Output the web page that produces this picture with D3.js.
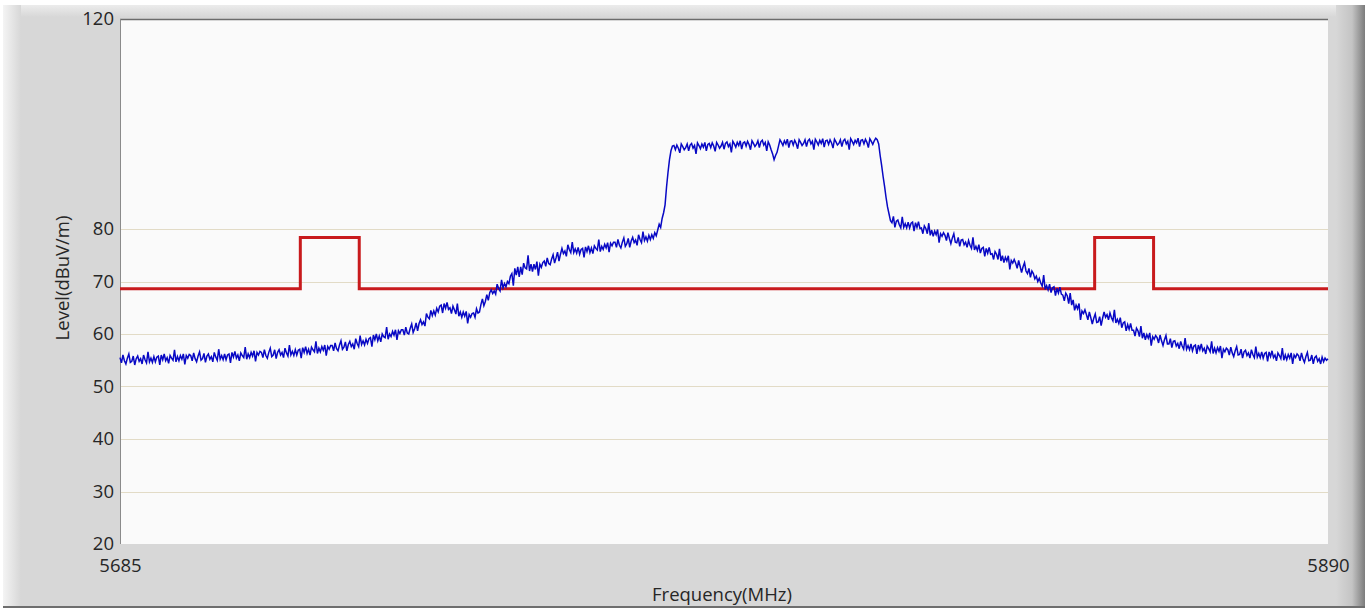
<!DOCTYPE html>
<html>
<head>
<meta charset="utf-8">
<script src="https://cdn.jsdelivr.net/npm/d3@7"></script>
<style>
  html, body { margin: 0; padding: 0; background: #ffffff; }
  svg { display: block; }
  text { font-family: "Open Sans", "Noto Sans", sans-serif; }
</style>
</head>
<body>
<svg id="chart" width="1370" height="610"></svg>
<script>
// Frequency sweep: start and step of the measured trace (MHz)
const freqStart = 5685;
const freqStep = 0.25;

// Measured field strength, dBuV/m, one value per 0.25 MHz (each row spans 2 MHz)
const levels = [
  55.5, 54.5, 56.0, 54.9, 54.3, 55.4, 56.2, 54.6,   // 5685
  54.8, 55.8, 54.1, 55.3, 55.8, 54.8, 55.3, 54.3,   // 5687
  56.0, 55.1, 54.5, 56.6, 54.7, 55.4, 54.6, 55.7,   // 5689
  54.7, 55.6, 55.8, 54.1, 56.0, 55.1, 56.2, 54.9,   // 5691
  55.5, 54.4, 55.9, 55.4, 55.0, 57.0, 54.7, 55.7,   // 5693
  54.9, 55.9, 55.2, 56.2, 54.2, 55.9, 55.4, 56.1,   // 5695
  55.9, 54.9, 56.4, 55.3, 54.7, 55.8, 56.6, 55.0,   // 5697
  55.3, 56.3, 54.6, 55.8, 56.2, 55.2, 55.7, 54.7,   // 5699
  56.5, 55.6, 55.0, 57.1, 55.2, 55.9, 55.1, 56.2,   // 5701
  55.1, 56.0, 56.2, 54.5, 56.5, 55.6, 56.7, 55.4,   // 5703
  56.0, 54.9, 56.4, 55.9, 55.5, 57.5, 55.2, 56.2,   // 5705
  55.5, 56.5, 55.8, 56.8, 54.8, 56.5, 56.0, 56.7,   // 5707
  56.5, 55.5, 57.0, 55.9, 55.4, 56.5, 57.3, 55.7,   // 5709
  56.0, 57.0, 55.3, 56.5, 57.0, 56.0, 56.5, 55.5,   // 5711
  57.3, 56.4, 55.8, 57.9, 56.0, 56.7, 55.9, 57.0,   // 5713
  56.0, 56.9, 57.1, 55.4, 57.4, 56.5, 57.6, 56.3,   // 5715
  57.1, 56.0, 57.5, 57.0, 56.6, 58.6, 56.3, 57.3,   // 5717
  56.6, 57.6, 56.9, 57.9, 55.9, 57.6, 57.1, 57.8,   // 5719
  57.8, 56.8, 58.3, 57.2, 56.8, 57.9, 58.7, 57.1,   // 5721
  57.5, 58.5, 56.8, 58.0, 58.6, 57.6, 58.1, 57.1,   // 5723
  59.1, 58.2, 57.6, 59.7, 58.0, 58.7, 57.9, 59.0,   // 5725
  58.2, 59.1, 59.3, 57.6, 59.8, 58.9, 60.0, 58.7,   // 5727
  59.6, 58.5, 60.0, 59.5, 59.3, 61.3, 59.0, 60.0,   // 5729
  59.5, 60.5, 59.8, 60.8, 58.9, 60.6, 60.1, 60.8,   // 5731
  60.8, 59.8, 61.3, 60.2, 60.0, 61.1, 61.9, 60.3,   // 5733
  61.0, 62.1, 60.6, 62.0, 62.7, 61.8, 62.3, 61.5,   // 5735
  63.9, 63.2, 62.9, 64.5, 63.5, 64.4, 63.6, 64.9,   // 5737
  64.2, 65.3, 65.5, 64.0, 65.8, 64.9, 66.0, 64.7,   // 5739
  65.0, 63.9, 65.3, 64.6, 63.8, 65.8, 63.4, 64.2,   // 5741
  63.2, 64.2, 63.4, 64.3, 62.0, 63.7, 63.2, 63.9,   // 5743
  64.0, 63.2, 64.8, 64.0, 64.2, 65.6, 66.7, 65.4,   // 5745
  66.2, 67.5, 66.4, 67.9, 68.4, 67.7, 68.2, 67.6,   // 5747
  69.5, 68.7, 68.2, 70.3, 68.8, 69.6, 69.0, 70.0,   // 5749
  69.6, 71.0, 71.5, 69.2, 72.5, 71.2, 72.8, 70.9,   // 5751
  72.8, 71.3, 73.5, 72.6, 72.4, 75.0, 72.0, 73.3,   // 5753
  71.9, 73.3, 72.3, 73.8, 71.1, 73.3, 72.7, 73.6,   // 5755
  73.9, 72.9, 74.5, 73.4, 73.2, 74.3, 75.1, 73.5,   // 5757
  74.5, 75.6, 73.9, 75.2, 76.3, 75.3, 75.8, 74.8,   // 5759
  77.0, 76.1, 75.5, 77.5, 75.5, 76.2, 75.4, 76.5,   // 5761
  75.2, 76.1, 76.3, 74.6, 76.6, 75.7, 76.8, 75.5,   // 5763
  76.4, 75.3, 76.8, 76.3, 76.0, 78.0, 75.7, 76.7,   // 5765
  76.1, 77.1, 76.4, 77.4, 75.6, 77.3, 76.8, 77.5,   // 5767
  77.5, 76.5, 78.0, 76.9, 76.4, 77.5, 78.3, 76.7,   // 5769
  77.2, 78.2, 76.5, 77.7, 78.4, 77.4, 77.9, 76.9,   // 5771
  78.9, 78.0, 77.4, 79.5, 77.8, 78.5, 77.7, 78.8,   // 5773
  78.0, 78.9, 78.2, 79.3, 78.7, 79.8, 80.9, 80.3,   // 5775
  82.0, 83.1, 84.6, 88.0, 90.8, 93.2, 94.9, 95.8,   // 5777
  95.9, 95.1, 96.0, 95.4, 94.5, 96.2, 95.7, 95.1,   // 5779
  95.5, 96.2, 94.9, 96.0, 96.3, 95.4, 95.9, 94.3,   // 5781
  96.4, 95.9, 95.3, 96.2, 95.6, 96.5, 94.9, 96.1,   // 5783
  96.3, 95.5, 96.4, 95.8, 94.8, 96.5, 96.0, 95.4,   // 5785
  95.8, 96.5, 95.2, 96.3, 96.6, 95.7, 96.2, 94.6,   // 5787
  96.7, 96.2, 95.6, 96.5, 95.9, 96.8, 95.2, 96.4,   // 5789
  96.6, 95.8, 96.7, 96.1, 95.1, 96.8, 96.3, 95.7,   // 5791
  96.1, 96.8, 95.5, 96.6, 96.9, 96.0, 96.5, 94.9,   // 5793
  96.6, 96.0, 95.1, 94.3, 93.2, 94.0, 94.6, 95.8,   // 5795
  97.0, 96.5, 95.9, 96.8, 96.2, 97.1, 95.5, 96.7,   // 5797
  96.8, 96.0, 96.9, 96.3, 95.3, 97.0, 96.5, 95.9,   // 5799
  96.3, 97.0, 95.7, 96.8, 97.1, 96.2, 96.7, 95.1,   // 5801
  97.1, 96.6, 96.0, 96.9, 96.3, 97.2, 95.6, 96.8,   // 5803
  96.9, 96.1, 97.0, 96.4, 95.4, 97.1, 96.6, 96.0,   // 5805
  96.3, 97.0, 95.7, 96.8, 97.1, 96.2, 96.7, 95.1,   // 5807
  97.2, 96.7, 96.1, 96.9, 96.4, 97.3, 95.7, 96.9,   // 5809
  97.0, 96.2, 97.1, 96.5, 95.5, 97.2, 96.7, 96.1,   // 5811
  96.8, 97.3, 97.0, 96.2, 94.0, 92.1, 90.0, 88.1,   // 5813
  86.0, 84.2, 82.9, 81.6, 81.2, 82.4, 80.3, 81.5,   // 5815
  81.7, 80.8, 80.2, 82.3, 80.3, 81.0, 80.2, 81.3,   // 5817
  80.2, 81.1, 81.3, 79.6, 81.2, 80.3, 81.4, 80.1,   // 5819
  80.2, 79.1, 80.6, 80.1, 79.1, 81.1, 78.8, 79.8,   // 5821
  78.6, 79.6, 78.9, 79.9, 77.4, 79.1, 78.6, 79.3,   // 5823
  78.8, 77.8, 79.3, 78.2, 77.2, 78.3, 79.1, 77.5,   // 5825
  77.4, 78.4, 76.7, 77.9, 78.0, 77.0, 77.5, 76.5,   // 5827
  77.8, 76.9, 76.3, 78.4, 76.0, 76.7, 75.9, 77.0,   // 5829
  75.4, 76.3, 76.5, 74.8, 76.3, 75.4, 76.5, 75.2,   // 5831
  75.3, 74.2, 75.7, 75.2, 74.2, 76.2, 73.9, 74.9,   // 5833
  73.6, 74.6, 73.9, 74.9, 72.3, 74.0, 73.5, 74.2,   // 5835
  73.5, 72.5, 74.0, 72.9, 71.7, 72.8, 73.6, 72.0,   // 5837
  71.5, 72.5, 70.8, 72.0, 71.5, 70.5, 71.0, 70.0,   // 5839
  70.6, 69.7, 69.1, 71.2, 68.5, 69.2, 68.4, 69.5,   // 5841
  67.9, 68.8, 69.0, 67.3, 68.7, 67.8, 68.9, 67.6,   // 5843
  67.4, 66.3, 67.8, 67.3, 65.8, 67.8, 65.5, 66.5,   // 5845
  64.5, 65.5, 64.8, 65.8, 62.7, 64.4, 63.9, 64.6,   // 5847
  63.7, 62.7, 64.2, 63.1, 61.9, 63.0, 63.8, 62.2,   // 5849
  62.3, 63.3, 61.6, 63.0, 64.2, 63.2, 63.7, 62.7,   // 5851
  64.0, 63.1, 62.5, 64.6, 62.1, 62.8, 62.0, 63.1,   // 5853
  61.2, 62.1, 62.3, 60.6, 61.8, 60.9, 62.0, 60.7,   // 5855
  60.7, 59.6, 61.1, 60.6, 59.5, 61.5, 59.2, 60.2,   // 5857
  58.9, 59.9, 59.2, 60.2, 57.8, 59.5, 59.0, 59.7,   // 5859
  59.3, 58.3, 59.8, 58.7, 57.8, 58.9, 59.7, 58.1,   // 5861
  58.1, 59.1, 57.4, 58.6, 58.7, 57.7, 58.2, 57.2,   // 5863
  58.6, 57.7, 57.1, 59.2, 57.1, 57.8, 57.0, 58.1,   // 5865
  56.8, 57.7, 57.9, 56.2, 57.9, 57.0, 58.1, 56.8,   // 5867
  57.3, 56.2, 57.7, 57.2, 56.6, 58.6, 56.3, 57.3,   // 5869
  56.4, 57.4, 56.7, 57.7, 55.4, 57.1, 56.6, 57.3,   // 5871
  57.0, 56.0, 57.5, 56.4, 55.7, 56.8, 57.6, 56.0,   // 5873
  56.1, 57.1, 55.4, 56.6, 56.9, 55.9, 56.4, 55.4,   // 5875
  57.0, 56.1, 55.5, 57.6, 55.6, 56.3, 55.5, 56.6,   // 5877
  55.4, 56.3, 56.5, 54.8, 56.6, 55.7, 56.8, 55.5,   // 5879
  56.0, 54.9, 56.4, 55.9, 55.3, 57.3, 55.0, 56.0,   // 5881
  55.1, 56.1, 55.4, 56.4, 54.3, 56.0, 55.5, 56.2,   // 5883
  55.9, 54.9, 56.4, 55.3, 54.6, 55.7, 56.5, 54.9,   // 5885
  55.0, 56.0, 54.3, 55.5, 55.8, 54.8, 55.3, 54.3,   // 5887
  55.6, 54.7, 55.4, 55.0, 55.3                      // 5889 - 5890
];

// Limit mask corner points
const limitFreqs  = [5685, 5715.6, 5715.6, 5725.6, 5725.6, 5850.4, 5850.4, 5860.4, 5860.4, 5890];
const limitLevels = [68.6, 68.6,   78.4,   78.4,   68.6,   68.6,   78.4,   78.4,   68.6,   68.6];

// Axis ticks and gridlines
const yTickValues = [20, 30, 40, 50, 60, 70, 80, 120];
const yGridValues = [30, 40, 50, 60, 70, 80];
const xTickValues = [5685, 5890];
const xDomain = [5685, 5890];
const yDomain = [20, 120];

const svg = d3.select("#chart");
const fontStack = "'Open Sans', 'Noto Sans', sans-serif";
const textColor = "#262626";
const fontSize = 18.5;

// Panel frame with bevelled edges
const defs = svg.append("defs");
const gl = defs.append("linearGradient").attr("id", "edgeLeft").attr("x1", 0).attr("x2", 1);
gl.append("stop").attr("offset", 0).attr("stop-color", "#f4f4f4");
gl.append("stop").attr("offset", 1).attr("stop-color", "#d7d7d7");
const gr = defs.append("linearGradient").attr("id", "edgeRight").attr("x1", 0).attr("x2", 1);
gr.append("stop").attr("offset", 0).attr("stop-color", "#d7d7d7");
gr.append("stop").attr("offset", 0.55).attr("stop-color", "#c4c4c4");
gr.append("stop").attr("offset", 1).attr("stop-color", "#7c7c7c");
const gt = defs.append("linearGradient").attr("id", "edgeTop").attr("x1", 0).attr("x2", 0).attr("y1", 0).attr("y2", 1);
gt.append("stop").attr("offset", 0).attr("stop-color", "#ececec");
gt.append("stop").attr("offset", 1).attr("stop-color", "#d7d7d7");

svg.append("rect").attr("x", 3).attr("y", 5).attr("width", 1362).attr("height", 603).attr("fill", "#d7d7d7");
svg.append("rect").attr("x", 3).attr("y", 5).attr("width", 1362).attr("height", 12).attr("fill", "url(#edgeTop)");
svg.append("rect").attr("x", 3).attr("y", 5).attr("width", 18).attr("height", 603).attr("fill", "url(#edgeLeft)");
svg.append("rect").attr("x", 1336).attr("y", 5).attr("width", 29).attr("height", 603).attr("fill", "url(#edgeRight)");
svg.append("rect").attr("x", 3).attr("y", 606).attr("width", 1362).attr("height", 2).attr("fill", "#6e6e6e");

// Scales
const x = d3.scaleLinear().domain(xDomain).range([120, 1328]);
const y = d3.scaleLinear().domain(yDomain).range([544, 19]);

// Plot area
svg.append("rect")
  .attr("x", x(xDomain[0])).attr("y", y(yDomain[1]))
  .attr("width", x(xDomain[1]) - x(xDomain[0]))
  .attr("height", y(yDomain[0]) - y(yDomain[1]))
  .attr("fill", "#fafafa");

// Horizontal gridlines
svg.append("g").selectAll("line").data(yGridValues).join("line")
  .attr("x1", x(xDomain[0])).attr("x2", x(xDomain[1]))
  .attr("y1", d => Math.round(y(d)) + 0.5).attr("y2", d => Math.round(y(d)) + 0.5)
  .attr("stroke", "#e2dbc6").attr("stroke-width", 1);

// Plot border (top and left)
svg.append("line")
  .attr("x1", x(xDomain[0])).attr("x2", x(xDomain[1]))
  .attr("y1", y(yDomain[1]) + 0.5).attr("y2", y(yDomain[1]) + 0.5)
  .attr("stroke", "#6c6c6c").attr("stroke-width", 1.5);
svg.append("line")
  .attr("x1", x(xDomain[0]) + 0.5).attr("x2", x(xDomain[0]) + 0.5)
  .attr("y1", y(yDomain[1])).attr("y2", y(yDomain[0]))
  .attr("stroke", "#8a8a8a").attr("stroke-width", 1);

// Limit mask
const limitData = limitFreqs.map((f, i) => [f, limitLevels[i]]);
svg.append("path")
  .datum(limitData)
  .attr("fill", "none")
  .attr("stroke", "#c81a1c")
  .attr("stroke-width", 3)
  .attr("d", d3.line().x(d => x(d[0])).y(d => y(d[1])));

// Measured trace
const traceData = levels.map((v, i) => [freqStart + i * freqStep, v]);
svg.append("path")
  .datum(traceData)
  .attr("fill", "none")
  .attr("stroke", "#0808c4")
  .attr("stroke-width", 1.5)
  .attr("stroke-linejoin", "miter")
  .attr("d", d3.line().x(d => x(d[0])).y(d => y(d[1])));

// Y axis labels
const yAxis = d3.axisLeft(y).tickValues(yTickValues).tickSize(0).tickPadding(6).tickFormat(d3.format("d"));
const gy = svg.append("g").attr("transform", `translate(${x(xDomain[0])},0)`).call(yAxis);
gy.select(".domain").remove();
gy.selectAll("text").attr("font-size", fontSize).attr("fill", textColor).attr("font-family", fontStack);

// X axis labels
const xAxis = d3.axisBottom(x).tickValues(xTickValues).tickSize(0).tickPadding(15).tickFormat(d3.format("d"));
const gx = svg.append("g").attr("transform", `translate(0,${y(yDomain[0])})`).call(xAxis);
gx.select(".domain").remove();
gx.selectAll("text").attr("font-size", fontSize).attr("fill", textColor).attr("font-family", fontStack);

// Axis titles
svg.append("text")
  .attr("x", 722).attr("y", 601)
  .attr("text-anchor", "middle").attr("font-size", fontSize).attr("fill", textColor)
  .attr("font-family", fontStack)
  .text("Frequency(MHz)");
svg.append("text")
  .attr("transform", "translate(69,278) rotate(-90)")
  .attr("text-anchor", "middle").attr("font-size", fontSize).attr("fill", textColor)
  .attr("font-family", fontStack)
  .text("Level(dBuV/m)");
</script>
</body>
</html>
